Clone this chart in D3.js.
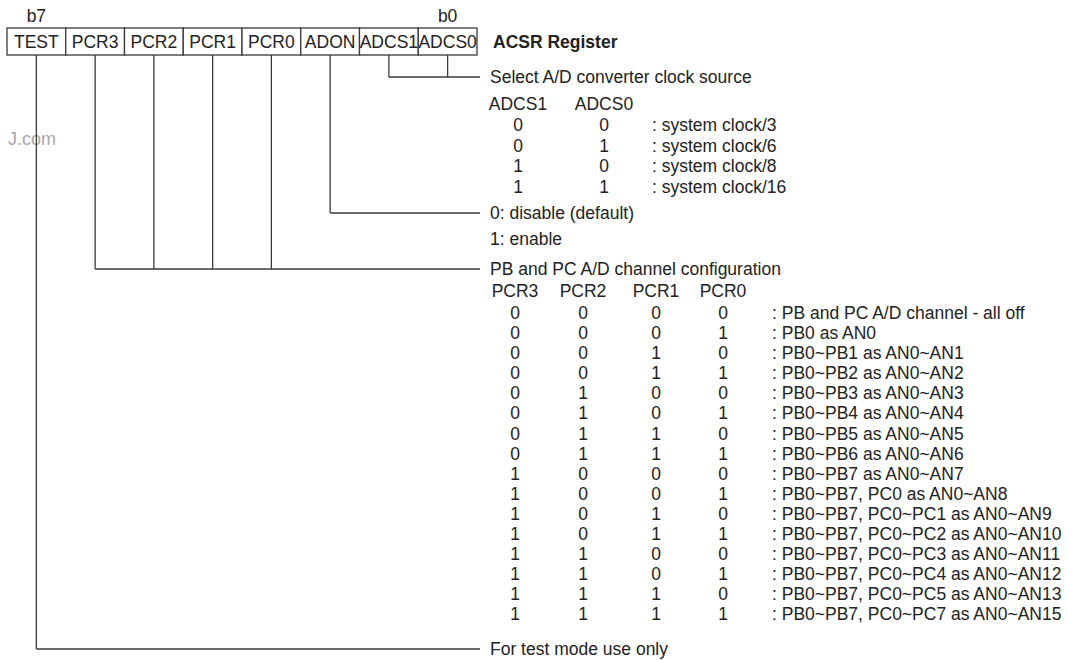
<html>
<head>
<meta charset="utf-8">
<script src="https://cdn.jsdelivr.net/npm/d3@7/dist/d3.min.js"></script>
<style>
body { margin: 0; background: #fff; }
text { font-family: "Liberation Sans", Arial, sans-serif; font-size: 17.5px; fill: #222; }
.lead { stroke: #3a3a3a; stroke-width: 1.3; fill: none; }
</style>
</head>
<body>
<svg width="1068" height="660"></svg>
<script>
// register bits, b7 .. b0
var bits = ["TEST", "PCR3", "PCR2", "PCR1", "PCR0", "ADON", "ADCS1", "ADCS0"];
var bitEnds = ["b7", "b0"];
var title = "ACSR Register";

var clockTitle = "Select A/D converter clock source";
var clockHeader = ["ADCS1", "ADCS0"];
var clockRows = [[0, 0], [0, 1], [1, 0], [1, 1]];
var clockDesc = ["system clock/3", "system clock/6", "system clock/8", "system clock/16"];

var adonDesc = ["0: disable (default)", "1: enable"];

var pcrTitle = "PB and PC A/D channel configuration";
var pcrHeader = ["PCR3", "PCR2", "PCR1", "PCR0"];
var pcrRows = [
  [0,0,0,0],[0,0,0,1],[0,0,1,0],[0,0,1,1],
  [0,1,0,0],[0,1,0,1],[0,1,1,0],[0,1,1,1],
  [1,0,0,0],[1,0,0,1],[1,0,1,0],[1,0,1,1],
  [1,1,0,0],[1,1,0,1],[1,1,1,0],[1,1,1,1]
];
var pcrDesc = [
  "PB and PC A/D channel - all off",
  "PB0 as AN0",
  "PB0~PB1 as AN0~AN1",
  "PB0~PB2 as AN0~AN2",
  "PB0~PB3 as AN0~AN3",
  "PB0~PB4 as AN0~AN4",
  "PB0~PB5 as AN0~AN5",
  "PB0~PB6 as AN0~AN6",
  "PB0~PB7 as AN0~AN7",
  "PB0~PB7, PC0 as AN0~AN8",
  "PB0~PB7, PC0~PC1 as AN0~AN9",
  "PB0~PB7, PC0~PC2 as AN0~AN10",
  "PB0~PB7, PC0~PC3 as AN0~AN11",
  "PB0~PB7, PC0~PC4 as AN0~AN12",
  "PB0~PB7, PC0~PC5 as AN0~AN13",
  "PB0~PB7, PC0~PC7 as AN0~AN15"
];

var testDesc = "For test mode use only";
var watermark = "J.com";

// fields that get a leader line, with the bits they gather
var fields = [
  { bits: ["ADCS1", "ADCS0"] },
  { bits: ["ADON"] },
  { bits: ["PCR3", "PCR2", "PCR1", "PCR0"] },
  { bits: ["TEST"] }
];

var svg = d3.select("svg");

// layout
var boxTop = 28, boxBottom = 55;
var leadEnd = 480, textX = 490;
var x = d3.scaleBand().domain(bits).range([7, 477]);
var cx = function (b) { return x(b) + x.bandwidth() / 2; };
var leadY = [77, 213, 269, 649];

// watermark
svg.append("text").attr("x", 56).attr("y", 139).attr("dy", "0.35em")
  .attr("text-anchor", "end").style("fill", "#a8a8a8").style("font-size", "18px")
  .text(watermark);

// leader lines
fields.forEach(function (f, i) {
  var y = leadY[i];
  f.bits.forEach(function (b) {
    svg.append("line").attr("class", "lead")
      .attr("x1", cx(b)).attr("x2", cx(b)).attr("y1", boxBottom).attr("y2", y);
  });
  svg.append("line").attr("class", "lead")
    .attr("x1", cx(f.bits[0])).attr("x2", leadEnd).attr("y1", y).attr("y2", y);
});

// register boxes
svg.selectAll("rect.cell").data(bits).enter().append("rect")
  .attr("class", "lead")
  .attr("x", function (d) { return x(d); })
  .attr("y", boxTop)
  .attr("width", x.bandwidth())
  .attr("height", boxBottom - boxTop)
  .style("fill", "#fff");

svg.selectAll("text.cell").data(bits).enter().append("text")
  .attr("x", cx).attr("y", (boxTop + boxBottom) / 2).attr("dy", "0.35em")
  .attr("text-anchor", "middle").text(function (d) { return d; });

svg.append("text").attr("x", cx(bits[0])).attr("y", 22).attr("text-anchor", "middle").text(bitEnds[0]);
svg.append("text").attr("x", cx(bits[bits.length - 1])).attr("y", 22).attr("text-anchor", "middle").text(bitEnds[1]);

svg.append("text").attr("x", 493).attr("y", 42).attr("dy", "0.35em")
  .style("font-weight", "bold").text(title);

// clock source block
var clockCols = [518, 604];
var cy = d3.scaleLinear().domain([0, 4]).range([104, 187]);
svg.append("text").attr("x", textX).attr("y", leadY[0]).attr("dy", "0.35em").text(clockTitle);
clockHeader.forEach(function (h, j) {
  svg.append("text").attr("x", clockCols[j]).attr("y", cy(0)).attr("dy", "0.35em")
    .attr("text-anchor", "middle").text(h);
});
clockRows.forEach(function (r, i) {
  r.forEach(function (v, j) {
    svg.append("text").attr("x", clockCols[j]).attr("y", cy(i + 1)).attr("dy", "0.35em")
      .attr("text-anchor", "middle").text(v);
  });
  svg.append("text").attr("x", 652).attr("y", cy(i + 1)).attr("dy", "0.35em").text(": " + clockDesc[i]);
});

// ADON block
adonDesc.forEach(function (t, i) {
  svg.append("text").attr("x", textX).attr("y", leadY[1] + i * 26).attr("dy", "0.35em").text(t);
});

// PCR block
var pcrCols = [515, 583, 656, 723];
var py = d3.scaleLinear().domain([0, 15]).range([313, 614]);
svg.append("text").attr("x", textX).attr("y", leadY[2]).attr("dy", "0.35em").text(pcrTitle);
pcrHeader.forEach(function (h, j) {
  svg.append("text").attr("x", pcrCols[j]).attr("y", 291).attr("dy", "0.35em")
    .attr("text-anchor", "middle").text(h);
});
pcrRows.forEach(function (r, i) {
  r.forEach(function (v, j) {
    svg.append("text").attr("x", pcrCols[j]).attr("y", py(i)).attr("dy", "0.35em")
      .attr("text-anchor", "middle").text(v);
  });
  svg.append("text").attr("x", 772).attr("y", py(i)).attr("dy", "0.35em").text(": " + pcrDesc[i]);
});

// test bit
svg.append("text").attr("x", textX).attr("y", leadY[3]).attr("dy", "0.35em").text(testDesc);
</script>
</body>
</html>
